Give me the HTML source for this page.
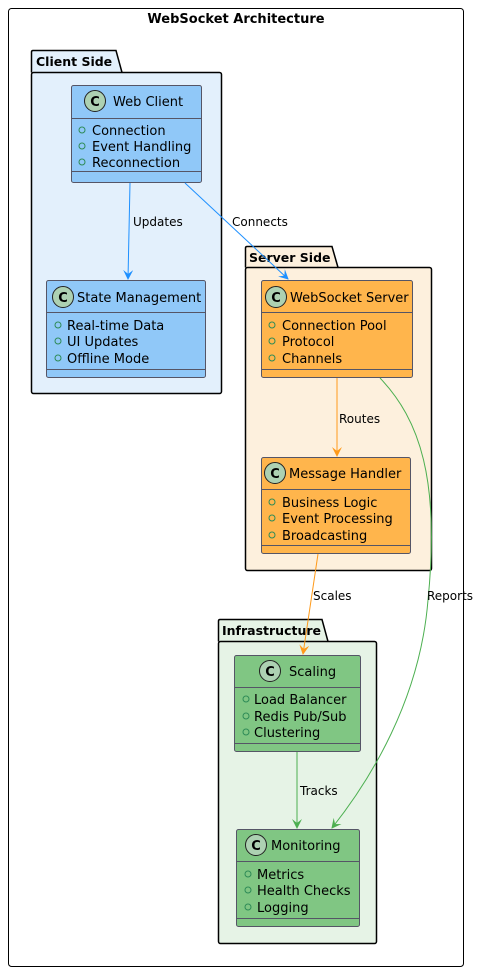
<!DOCTYPE html>
<html><head><meta charset="utf-8"><style>
html,body{margin:0;padding:0;background:#fff;}
svg{display:block;font-family:"DejaVu Sans","Liberation Sans",sans-serif;}
.t{font-size:13px;fill:#000}
.a{font-size:13px;fill:#000}
.e{font-size:12px;fill:#000}
.p{font-size:12.5px;font-weight:bold;fill:#000}
</style></head><body>
<svg width="481" height="971" viewBox="0 0 481 971" xmlns="http://www.w3.org/2000/svg">
<defs>
<marker id="mb" markerWidth="10" markerHeight="10" refX="9" refY="5" orient="auto" markerUnits="userSpaceOnUse"><path d="M0,0 L10,5 L0,10 L4,5 Z" fill="#1e90ff"/></marker>
<marker id="mo" markerWidth="10" markerHeight="10" refX="9" refY="5" orient="auto" markerUnits="userSpaceOnUse"><path d="M0,0 L10,5 L0,10 L4,5 Z" fill="#ff9a1a"/></marker>
<marker id="mg" markerWidth="10" markerHeight="10" refX="9" refY="5" orient="auto" markerUnits="userSpaceOnUse"><path d="M0,0 L10,5 L0,10 L4,5 Z" fill="#4caf50"/></marker>
</defs>
<rect x="8.5" y="8.5" width="455" height="958" rx="3" fill="#fff" stroke="#000" stroke-width="1"/>
<text x="236" y="23" text-anchor="middle" class="p" style="font-size:13px">WebSocket Architecture</text>

<path d="M31.5,72.5 L31.5,52 Q31.5,50.5 33,50.5 L116,50.5 L122,72.5" fill="#e3f0fc" stroke="#000" stroke-width="1.5"/>
<rect x="31.5" y="72.5" width="190" height="321" rx="2" fill="#e3f0fc" stroke="#000" stroke-width="1.5"/>
<text x="36" y="66" class="p">Client Side</text>

<path d="M245.5,267.5 L245.5,248 Q245.5,246.5 247,246.5 L332,246.5 L338,267.5" fill="#fdf0dd" stroke="#000" stroke-width="1.5"/>
<rect x="245.5" y="267.5" width="186" height="303" rx="2" fill="#fdf0dd" stroke="#000" stroke-width="1.5"/>
<text x="249" y="262" class="p">Server Side</text>

<path d="M218.5,641.5 L218.5,621 Q218.5,619.5 220,619.5 L322,619.5 L328,641.5" fill="#e6f3e6" stroke="#000" stroke-width="1.5"/>
<rect x="218.5" y="641.5" width="158" height="302" rx="2" fill="#e6f3e6" stroke="#000" stroke-width="1.5"/>
<text x="222" y="635" class="p">Infrastructure</text>

<g stroke="#556" stroke-width="1">
<rect x="71.5" y="85.5" width="130" height="97" rx="2" fill="#90c8f8"/>
<line x1="71.5" y1="118.5" x2="201.5" y2="118.5"/><line x1="71.5" y1="171.5" x2="201.5" y2="171.5"/>
<rect x="46.5" y="280.5" width="159" height="97" rx="2" fill="#90c8f8"/>
<line x1="46.5" y1="312.5" x2="205.5" y2="312.5"/><line x1="46.5" y1="369.5" x2="205.5" y2="369.5"/>
<rect x="261.5" y="280.5" width="151" height="97" rx="2" fill="#ffb54c"/>
<line x1="261.5" y1="312.5" x2="412.5" y2="312.5"/><line x1="261.5" y1="369.5" x2="412.5" y2="369.5"/>
<rect x="261.5" y="457.5" width="149" height="96" rx="2" fill="#ffb54c"/>
<line x1="261.5" y1="489.5" x2="410.5" y2="489.5"/><line x1="261.5" y1="545.5" x2="410.5" y2="545.5"/>
<rect x="234.5" y="655.5" width="126" height="96" rx="2" fill="#80c683"/>
<line x1="234.5" y1="687.5" x2="360.5" y2="687.5"/><line x1="234.5" y1="743.5" x2="360.5" y2="743.5"/>
<rect x="236.5" y="829.5" width="123" height="97" rx="2" fill="#80c683"/>
<line x1="236.5" y1="861.5" x2="359.5" y2="861.5"/><line x1="236.5" y1="918.5" x2="359.5" y2="918.5"/>
</g>
<g fill="#add1b2" stroke="#222" stroke-width="1">
<circle cx="95" cy="101" r="10.5"/><circle cx="63" cy="297" r="10.5"/><circle cx="276" cy="297" r="10.5"/>
<circle cx="275" cy="473" r="10.5"/><circle cx="270" cy="671" r="10.5"/><circle cx="256" cy="845" r="10.5"/>
</g>
<g font-size="13" font-weight="bold" text-anchor="middle" fill="#000">
<text x="95" y="106">C</text><text x="63" y="302">C</text><text x="276" y="302">C</text>
<text x="275" y="478">C</text><text x="270" y="676">C</text><text x="256" y="850">C</text>
</g>
<text x="113" y="106" class="t">Web Client</text>
<text x="77" y="302" class="t">State Management</text>
<text x="290" y="302" class="t">WebSocket Server</text>
<text x="289" y="478" class="t">Message Handler</text>
<text x="289" y="676" class="t">Scaling</text>
<text x="271" y="850" class="t">Monitoring</text>

<g fill="none" stroke="#2e8b57" stroke-width="1">
<circle cx="82" cy="130" r="3"/><circle cx="82" cy="146" r="3"/><circle cx="82" cy="162" r="3"/>
<circle cx="58" cy="325" r="3"/><circle cx="58" cy="341" r="3"/><circle cx="58" cy="358" r="3"/>
<circle cx="272" cy="325" r="3"/><circle cx="272" cy="341" r="3"/><circle cx="272" cy="358" r="3"/>
<circle cx="272" cy="502" r="3"/><circle cx="272" cy="518" r="3"/><circle cx="272" cy="535" r="3"/>
<circle cx="246" cy="699" r="3"/><circle cx="246" cy="716" r="3"/><circle cx="246" cy="732" r="3"/>
<circle cx="248" cy="874" r="3"/><circle cx="248" cy="890" r="3"/><circle cx="248" cy="907" r="3"/>
</g>
<g>
<text x="92" y="135" class="a">Connection</text><text x="92" y="151" class="a">Event Handling</text><text x="92" y="167" class="a">Reconnection</text>
<text x="67" y="330" class="a">Real-time Data</text><text x="67" y="346" class="a">UI Updates</text><text x="67" y="363" class="a">Offline Mode</text>
<text x="282" y="330" class="a">Connection Pool</text><text x="282" y="346" class="a">Protocol</text><text x="282" y="363" class="a">Channels</text>
<text x="282" y="507" class="a">Business Logic</text><text x="282" y="523" class="a">Event Processing</text><text x="282" y="540" class="a">Broadcasting</text>
<text x="254" y="704" class="a">Load Balancer</text><text x="254" y="721" class="a">Redis Pub/Sub</text><text x="254" y="737" class="a">Clustering</text>
<text x="257" y="879" class="a">Metrics</text><text x="257" y="895" class="a">Health Checks</text><text x="257" y="912" class="a">Logging</text>
</g>

<line x1="130" y1="183" x2="128" y2="279" stroke="#1e90ff" stroke-width="1" marker-end="url(#mb)"/>
<line x1="185" y1="183" x2="288" y2="279" stroke="#1e90ff" stroke-width="1" marker-end="url(#mb)"/>
<line x1="337" y1="378" x2="337" y2="456" stroke="#ff9a1a" stroke-width="1" marker-end="url(#mo)"/>
<line x1="318" y1="554" x2="303" y2="654" stroke="#ff9a1a" stroke-width="1" marker-end="url(#mo)"/>
<path d="M380,378 C420,420 440,480 428,600 C420,700 370,780 332,828" fill="none" stroke="#4caf50" stroke-width="1" marker-end="url(#mg)"/>
<line x1="297" y1="752" x2="297" y2="828" stroke="#4caf50" stroke-width="1" marker-end="url(#mg)"/>
<text x="133" y="226" class="e">Updates</text>
<text x="232" y="226" class="e">Connects</text>
<text x="339" y="423" class="e">Routes</text>
<text x="313" y="600" class="e">Scales</text>
<text x="427" y="600" class="e">Reports</text>
<text x="300" y="795" class="e">Tracks</text>
</svg>
</body></html>
